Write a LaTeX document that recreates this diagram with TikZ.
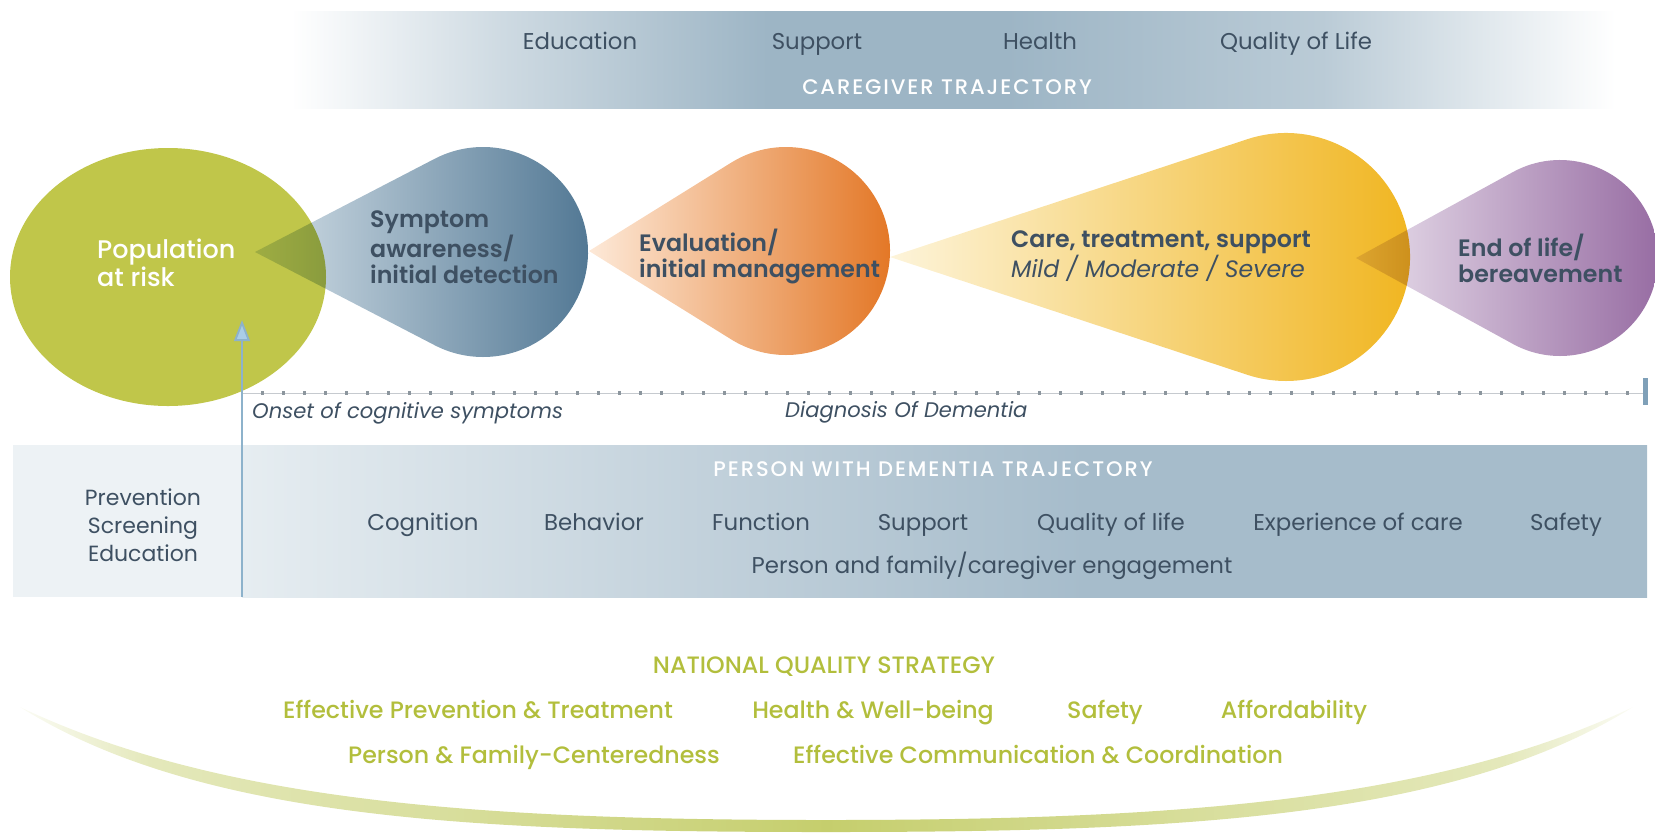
\documentclass[tikz,border=0pt]{standalone}
\usepackage{fontspec}
\setmainfont{Poppins}[BoldFont={Poppins SemiBold}]
\newfontfamily\capsfont{Poppins}[LetterSpace=9,BoldFont={Poppins Medium}]
\newfontfamily\medfont{Poppins Medium}
\usetikzlibrary{calc,arrows.meta}

\definecolor{popgreen}{HTML}{C0C64A}
\definecolor{slate}{HTML}{3E5062}
\definecolor{bandblue}{HTML}{9DB5C5}
\definecolor{lowblue}{HTML}{A6BCCB}
\definecolor{lowpale}{HTML}{E6EDF1}
\definecolor{leftpale}{HTML}{EDF2F5}
\definecolor{stratgreen}{HTML}{B2BE3C}
\definecolor{arrowblue}{HTML}{8DB2CB}
\definecolor{arrowhead}{HTML}{AACDE6}
\definecolor{tickgray}{HTML}{8C969E}
\definecolor{endbar}{HTML}{7FA0B8}

% stage colours, light end first
\definecolor{bluelt}{HTML}{D3DFE7}
\definecolor{bluedk}{HTML}{4D7491}
\definecolor{orangelt}{HTML}{FDE9D8}
\definecolor{orangedk}{HTML}{E2721E}
\definecolor{yellowlt}{HTML}{FDF4DA}
\definecolor{yellowdk}{HTML}{F0B41C}
\definecolor{purplelt}{HTML}{E9E0EC}
\definecolor{purpledk}{HTML}{9468A0}

\pgfdeclarehorizontalshading{carerband}{100bp}{color(0bp)=(white); color(25bp)=(white);
  color(33bp)=(bandblue!50); color(43bp)=(bandblue); color(52bp)=(bandblue);
  color(64bp)=(bandblue!70); color(75bp)=(white); color(100bp)=(white)}
\pgfdeclarehorizontalshading{pwdband}{100bp}{color(0bp)=(lowpale); color(25bp)=(lowpale);
  color(42bp)=(lowblue!70); color(55bp)=(lowblue); color(75bp)=(lowblue); color(100bp)=(lowblue)}
\pgfdeclarehorizontalshading{swoosh}{100bp}{color(0bp)=(stratgreen!5); color(25bp)=(stratgreen!5);
  color(29bp)=(stratgreen!35); color(38bp)=(stratgreen!50); color(50bp)=(stratgreen!75);
  color(62bp)=(stratgreen!50); color(71bp)=(stratgreen!35); color(75bp)=(stratgreen!5);
  color(100bp)=(stratgreen!5)}

% drop shape: tip x, centre x, y, radius
\newcommand{\teardrop}[5][]{%
  \pgfmathsetmacro\dropang{acos(#5/(#3-#2))}%
  \path[#1] (#2,#4) -- ($(#3,#4)+(180-\dropang:#5)$)
    arc[start angle=180-\dropang, end angle=-180+\dropang, radius=#5] -- cycle;}

\begin{document}
\begin{tikzpicture}[x=0.02cm,y=0.02cm,
    item/.style={font=\fontsize{13}{15}\selectfont,text=slate,text height=1.6ex,text depth=0.3ex},
    stage/.style={font=\fontsize{13.5}{14.8}\selectfont\bfseries,text=slate,align=left,anchor=west},
    bandtitle/.style={font=\capsfont\bfseries\fontsize{12}{13}\selectfont,text=white},
    milestone/.style={font=\fontsize{12}{14}\selectfont\itshape,text=slate,anchor=west},
    strategy/.style={font=\medfont\fontsize{13.5}{15}\selectfont,text=stratgreen,text height=1.6ex,text depth=0.3ex}]

  \useasboundingbox (0,0) rectangle (1655,-833);

  % Caregiver band
  \path[shading=carerband] (291,-11) rectangle (1615,-108);
  \node[item] (edu) at (580,-43) {Education};
  \node[item] (sup) at (817,-43) {Support};
  \node[item] (hea) at (1040,-43) {Health};
  \node[item] (qol) at (1296,-43) {Quality of Life};
  \node[bandtitle] (cgtitle) at (947,-87) {CAREGIVER TRAJECTORY};

  % Stages
  \fill[popgreen] (168,-277) ellipse[x radius=158, y radius=129];
  \begin{scope}[blend mode=multiply]
    \teardrop[left color=bluelt,right color=bluedk]{255}{483}{-252}{105}
    \teardrop[left color=orangelt,right color=orangedk]{589}{786}{-251}{104}
    \teardrop[left color=yellowlt,right color=yellowdk]{890}{1286}{-257}{124}
    \teardrop[left color=purplelt,right color=purpledk]{1356}{1560}{-258}{98}
  \end{scope}

  \node[stage,text=white,font=\medfont\fontsize{14.5}{16}\selectfont] (risk) at (91,-263) {Population\\at risk};
  \node[stage] (detect) at (364,-247) {Symptom\\awareness/\\initial detection};
  \node[stage] (eval) at (633,-256) {Evaluation/\\initial management};
  \node[stage] (care) at (1005,-256) {Care, treatment, support\\{\mdseries\itshape Mild / Moderate / Severe}};
  \node[stage] (eol) at (1452,-258) {End of life/\\bereavement};

  % Person with dementia band
  \fill[leftpale] (13,-445) rectangle (242,-597);
  \path[shading=pwdband] (242,-445) rectangle (1647,-597);
  \node[bandtitle] (pwdtitle) at (933,-469) {PERSON WITH DEMENTIA TRAJECTORY};
  \node[item,align=center,font=\fontsize{12.5}{15.9}\selectfont,text height=,text depth=] (prev) at (143,-525) {Prevention\\Screening\\Education};
  \node[item] (cog) at (423,-524) {Cognition};
  \node[item] (beh) at (594,-524) {Behavior};
  \node[item] (fun) at (761,-524) {Function};
  \node[item] (psup) at (923,-524) {Support};
  \node[item] (pqol) at (1111,-524) {Quality of life};
  \node[item] (exp) at (1358,-524) {Experience of care};
  \node[item] (saf) at (1566,-524) {Safety};
  \node[item] (eng) at (992,-567) {Person and family/caregiver engagement};

  % Timeline
  \coordinate (tlstart) at (242,-393);
  \coordinate (tlend) at (1645,-393);
  \draw[tickgray!50,line width=0.4pt] (tlstart) -- (tlend);
  \foreach \k in {0,...,65}
    \fill[tickgray] ({260.5+21*\k},-391) rectangle ++(3,-4);
  \fill[endbar] ($(tlend)+(-2,15)$) rectangle ($(tlend)+(3,-12)$);
  \node[milestone] (onset) at (246,-413) {Onset of cognitive symptoms};
  \node[milestone] (diag) at (779,-412) {Diagnosis Of Dementia};

  % Onset arrow
  \coordinate (onsetfoot) at (242,-597);
  \coordinate (onsettip) at (242,-320);
  \draw[arrowblue,line width=1.1pt,-{Triangle[width=9pt,length=12pt,fill=arrowhead]}] (onsetfoot) -- (onsettip);

  % National quality strategy
  \path[shading=swoosh]
    (20,-707) .. controls (200,-820) and (480,-832) .. (826,-832)
    .. controls (1172,-832) and (1452,-820) .. (1633,-707)
    .. controls (1433,-802) and (1170,-820) .. (826,-820)
    .. controls (482,-820) and (220,-802) .. (20,-707) -- cycle;
  \node[strategy] (nqs) at (824,-667) {NATIONAL QUALITY STRATEGY};
  \node[strategy] (s1) at (478,-712) {Effective Prevention \& Treatment};
  \node[strategy] (s2) at (873,-712) {Health \& Well-being};
  \node[strategy] (s3) at (1105,-712) {Safety};
  \node[strategy] (s4) at (1294,-712) {Affordability};
  \node[strategy] (s5) at (534,-757) {Person \& Family-Centeredness};
  \node[strategy] (s6) at (1038,-757) {Effective Communication \& Coordination};

\end{tikzpicture}
\end{document}
